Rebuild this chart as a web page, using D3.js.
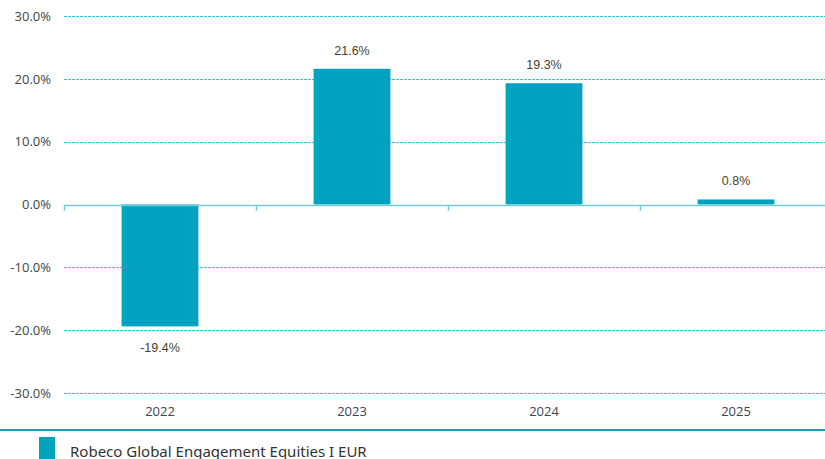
<!DOCTYPE html>
<html>
<head>
<meta charset="utf-8">
<script src="https://cdn.jsdelivr.net/npm/d3@7"></script>
<style>
  body { margin: 0; background: #fff; }
  svg { display: block; }
</style>
</head>
<body>
<div id="chart"></div>
<script>
const YEARS = ['2022', '2023', '2024', '2025'],
      RETURNS = [-19.4, 21.6, 19.3, 0.8],
      Y_TICKS = [-30, -20, -10, 0, 10, 20, 30],
      SERIES_NAME = 'Robeco Global Engagement Equities I EUR'

const SIZE = { WIDTH: 825, HEIGHT: 459 },
      PLOT = { LEFT: 64, RIGHT: 832, TOP: 16, BOTTOM: 393 },
      BAR_COLOR = '#00a3bf',
      GRID_COLOR = '#3fbdd2'

const fmt = d => d.toFixed(1) + '%'

const svg = d3.select('#chart').append('svg')
  .attr('width', SIZE.WIDTH)
  .attr('height', SIZE.HEIGHT)

const x = d3.scaleBand()
  .domain(YEARS)
  .range([PLOT.LEFT, PLOT.RIGHT])
  .paddingInner(0.6)
  .paddingOuter(0.3)

const xTicks = d3.scaleBand().domain(YEARS).range([PLOT.LEFT, PLOT.RIGHT])

const y = d3.scaleLinear()
  .domain([-30, 30])
  .range([PLOT.BOTTOM, PLOT.TOP])

// gridlines
svg.append('g')
  .selectAll('line')
  .data(Y_TICKS.filter(d => d !== 0))
  .enter()
  .append('line')
  .attr('x1', PLOT.LEFT)
  .attr('x2', SIZE.WIDTH)
  .attr('y1', d => Math.round(y(d)) + 0.5)
  .attr('y2', d => Math.round(y(d)) + 0.5)
  .attr('stroke', GRID_COLOR)
  .attr('stroke-width', 1)
  .attr('stroke-dasharray', '3,1')

// y tick labels
const yAxis = d3.axisLeft(y).tickValues(Y_TICKS).tickFormat(fmt).tickSize(0).tickPadding(0)
svg.append('g')
  .attr('transform', `translate(${PLOT.LEFT - 13}, 0)`)
  .call(yAxis)
  .call(g => g.select('.domain').remove())
  .call(g => g.selectAll('text')
    .attr('fill', '#444')
    .style('font-family', '"Open Sans", sans-serif')
    .style('font-size', '13px'))

// bars
svg.append('g')
  .selectAll('rect')
  .data(RETURNS)
  .enter()
  .append('rect')
  .attr('x', (d, i) => x(YEARS[i]))
  .attr('width', x.bandwidth())
  .attr('y', d => y(Math.max(0, d)))
  .attr('height', d => Math.abs(y(d) - y(0)))
  .attr('fill', BAR_COLOR)

// zero line with category ticks
const zeroY = Math.round(y(0)) + 0.5
svg.append('line')
  .attr('x1', PLOT.LEFT)
  .attr('x2', SIZE.WIDTH)
  .attr('y1', zeroY)
  .attr('y2', zeroY)
  .attr('stroke', '#72cbd9')
  .attr('stroke-width', 1.5)
svg.append('g')
  .selectAll('line')
  .data(YEARS)
  .enter()
  .append('line')
  .attr('x1', d => Math.round(xTicks(d)) + 0.5)
  .attr('x2', d => Math.round(xTicks(d)) + 0.5)
  .attr('y1', zeroY)
  .attr('y2', zeroY + 5)
  .attr('stroke', '#72cbd9')
  .attr('stroke-width', 1.5)

// value labels
svg.append('g')
  .selectAll('text')
  .data(RETURNS)
  .enter()
  .append('text')
  .attr('x', (d, i) => x(YEARS[i]) + x.bandwidth() / 2)
  .attr('y', d => d >= 0 ? y(d) - 14 : y(d) + 26)
  .attr('text-anchor', 'middle')
  .attr('fill', '#4b3f2c')
  .style('font-family', '"Liberation Sans", Arial, sans-serif')
  .style('font-size', '12.5px')
  .text(fmt)

// x labels
svg.append('g')
  .selectAll('text')
  .data(YEARS)
  .enter()
  .append('text')
  .attr('x', d => xTicks(d) + xTicks.bandwidth() / 2)
  .attr('y', 416)
  .attr('text-anchor', 'middle')
  .attr('fill', '#444')
  .style('font-family', '"Open Sans", sans-serif')
  .style('font-size', '13px')
  .text(d => d)

// legend
svg.append('line')
  .attr('x1', 0)
  .attr('x2', SIZE.WIDTH)
  .attr('y1', 430)
  .attr('y2', 430)
  .attr('stroke', '#1a9fb8')
  .attr('stroke-width', 2)

const legend = svg.append('g').attr('transform', 'translate(39, 437)')
legend.append('rect')
  .attr('width', 16)
  .attr('height', 24)
  .attr('fill', BAR_COLOR)
legend.append('text')
  .attr('x', 31)
  .attr('y', 20)
  .attr('fill', '#333')
  .style('font-family', '"Noto Sans", sans-serif')
  .style('font-size', '15px')
  .text(SERIES_NAME)
</script>
</body>
</html>
